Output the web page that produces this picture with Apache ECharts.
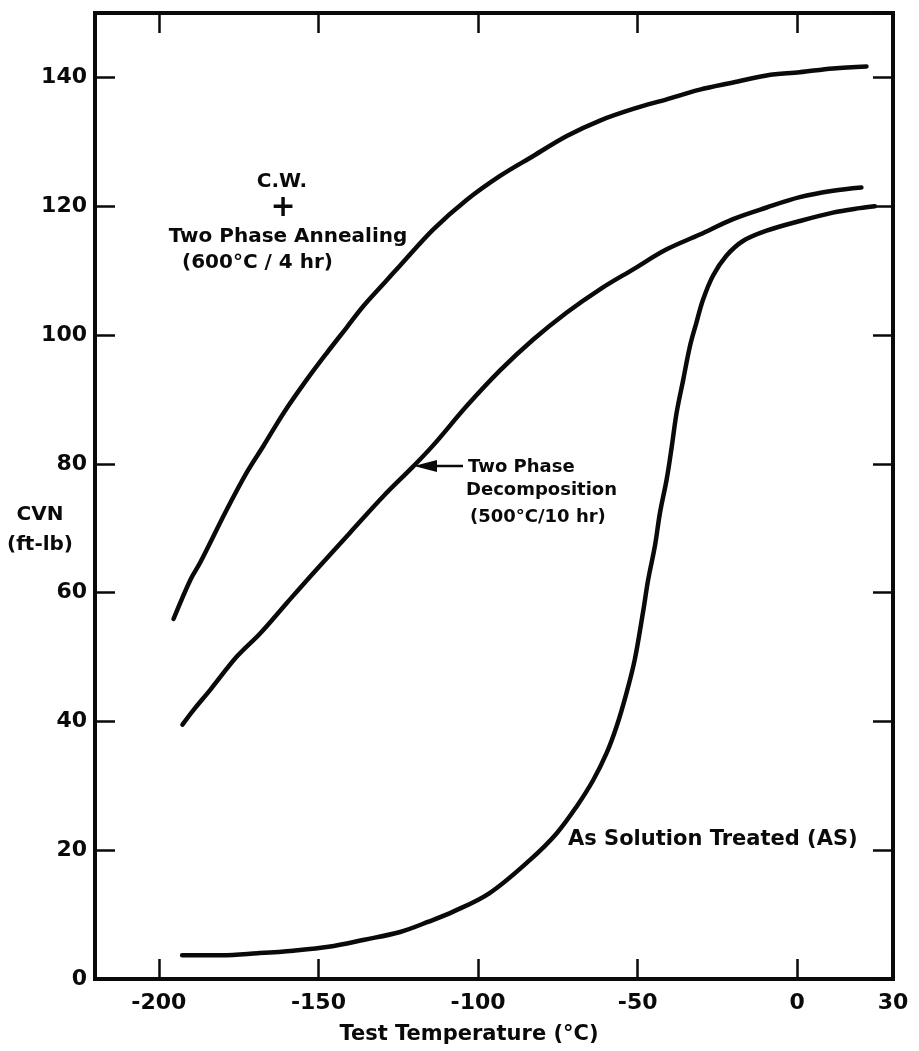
<!DOCTYPE html>
<html>
<head>
<meta charset="utf-8">
<style>
html,body{margin:0;padding:0;background:#ffffff;}
#chart{width:919px;height:1051px;}
</style>
<script src="https://cdn.jsdelivr.net/npm/echarts@6/dist/echarts.min.js"></script>
</head>
<body>
<div id="chart"></div>
<script>
// ---- data ----
// C.W. + Two Phase Annealing (600°C / 4 hr)
const cwTemp = [-195.4,-190.1,-187.0,-178.7,-172.4,-167.2,-160.9,-153.6,-147.4,-141.1,-135.9,-128.6,-124.4,-114.0,-103.5,-93.1,-82.7,-72.2,-61.8,-51.4,-40.9,-30.5,-20.1,-9.6,0.8,11.2,21.7];
const cwCVN  = [55.9,62.0,64.7,72.9,78.7,82.8,87.9,93.1,97.2,101.2,104.5,108.5,110.8,116.4,121.0,124.7,127.8,130.9,133.3,135.1,136.6,138.1,139.2,140.3,140.8,141.4,141.7];
// Two Phase Decomposition (500°C / 10 hr)
const tpdTemp = [-192.6,-189.1,-183.9,-175.5,-168.2,-159.9,-151.5,-140.1,-129.6,-120.3,-114.0,-103.5,-93.1,-82.7,-72.2,-61.8,-51.4,-40.9,-30.5,-20.1,-9.6,0.8,11.2,20.1];
const tpdCVN  = [39.5,41.8,44.9,50.1,53.7,58.4,63.1,69.3,75.0,79.6,82.9,89.0,94.5,99.3,103.5,107.1,110.2,113.3,115.6,118.0,119.8,121.4,122.4,122.9];
// As Solution Treated (AS)
const asTemp = [-192.7,-180.3,-169.1,-157.9,-146.8,-135.6,-124.4,-115.5,-107.6,-96.5,-83.7,-75.4,-69.1,-63.9,-59.7,-56.6,-53.5,-50.9,-48.3,-46.7,-44.6,-43.0,-40.9,-39.3,-37.8,-35.7,-33.6,-31.6,-29.5,-26.4,-22.2,-17.0,-9.6,0.8,11.2,19.6,24.3];
const asCVN  = [3.7,3.7,4.0,4.4,5.0,6.1,7.3,8.9,10.5,13.3,18.5,22.6,26.8,30.9,35.1,39.2,44.4,49.6,57.0,62.0,67.2,72.4,77.6,82.7,87.9,93.1,98.3,101.9,105.5,109.2,112.3,114.6,116.2,117.7,119.0,119.7,120.0];

const xTickLabels = [-200,-150,-100,-50,0,30];
const yTickLabels = [0,20,40,60,80,100,120,140];

const xMin = -220, xMax = 30, yMin = 0, yMax = 150;

const FONT = '"DejaVu Sans", "Liberation Sans", sans-serif';
const INK = '#0a0a0a';

function zip(a, b){ return a.map((v,i)=>[v,b[i]]); }

const chart = echarts.init(document.getElementById('chart'), null, {renderer:'canvas'});

const axisLineStyle = {show:true, onZero:false, lineStyle:{color:INK, width:4, cap:'square'}};
const tickStyle = {show:true, inside:true, length:20, lineStyle:{color:INK, width:2.5}};

const lineSeries = (name, xs, ys) => ({
  name, type:'line', data: zip(xs, ys),
  showSymbol:false, symbol:'none',
  smooth:0.35,
  lineStyle:{color:INK, width:4.5, cap:'round', join:'round'},
  z:5, animation:false, silent:true
});

const txt = (text, x, y, size, align) => ({
  type:'text', x, y, z:10, silent:true,
  style:{text, fill:INK, font:'bold '+size+'px '+FONT, align: align||'center', verticalAlign:'middle'}
});

chart.setOption({
  backgroundColor:'#ffffff',
  animation:false,
  grid:{left:95, right:26, top:13, bottom:72, containLabel:false},
  xAxis:[{
    type:'value', position:'bottom', min:xMin, max:xMax, splitNumber:5,
    axisLine:axisLineStyle, axisTick:tickStyle, splitLine:{show:false},
    axisLabel:{show:true, margin:13, color:INK, fontFamily:FONT, fontWeight:'bold', fontSize:22,
      formatter:v => xTickLabels.includes(v) ? String(v) : ''}
  },{
    type:'value', position:'top', min:xMin, max:xMax, splitNumber:5,
    axisLine:axisLineStyle, axisTick:tickStyle, splitLine:{show:false}, axisLabel:{show:false}
  }],
  yAxis:[{
    type:'value', position:'left', min:yMin, max:yMax, interval:20,
    axisLine:axisLineStyle, axisTick:tickStyle, splitLine:{show:false},
    axisLabel:{show:true, margin:8, color:INK, fontFamily:FONT, fontWeight:'bold', fontSize:22,
      formatter:v => yTickLabels.includes(v) ? String(v) : ''}
  },{
    type:'value', position:'right', min:yMin, max:yMax, interval:20,
    axisLine:axisLineStyle, axisTick:tickStyle, splitLine:{show:false}, axisLabel:{show:false}
  }],
  series:[
    lineSeries('C.W. + Two Phase Annealing (600°C / 4 hr)', cwTemp, cwCVN),
    lineSeries('Two Phase Decomposition (500°C / 10 hr)', tpdTemp, tpdCVN),
    lineSeries('As Solution Treated (AS)', asTemp, asCVN)
  ],
  graphic:[
    txt('CVN', 40, 515, 20),
    txt('(ft-lb)', 40, 545, 20),
    txt('Test Temperature (°C)', 469, 1035, 21),
    txt('C.W.', 282, 182, 20),
    txt('+', 283, 208, 30),
    txt('Two Phase Annealing', 288, 237, 20),
    txt('(600°C / 4 hr)', 182, 263, 20, 'left'),
    txt('Two Phase', 468, 467, 18, 'left'),
    txt('Decomposition', 466, 490, 18, 'left'),
    txt('(500°C/10 hr)', 470, 517, 18, 'left'),
    txt('As Solution Treated (AS)', 568, 840, 21, 'left'),
    {type:'polygon', z:10, silent:true, shape:{points:[[414,466],[437,460],[437,472]]}, style:{fill:INK}},
    {type:'line', z:10, silent:true, shape:{x1:435, y1:466, x2:463, y2:466}, style:{stroke:INK, lineWidth:2.5}}
  ]
});
</script>
</body>
</html>
